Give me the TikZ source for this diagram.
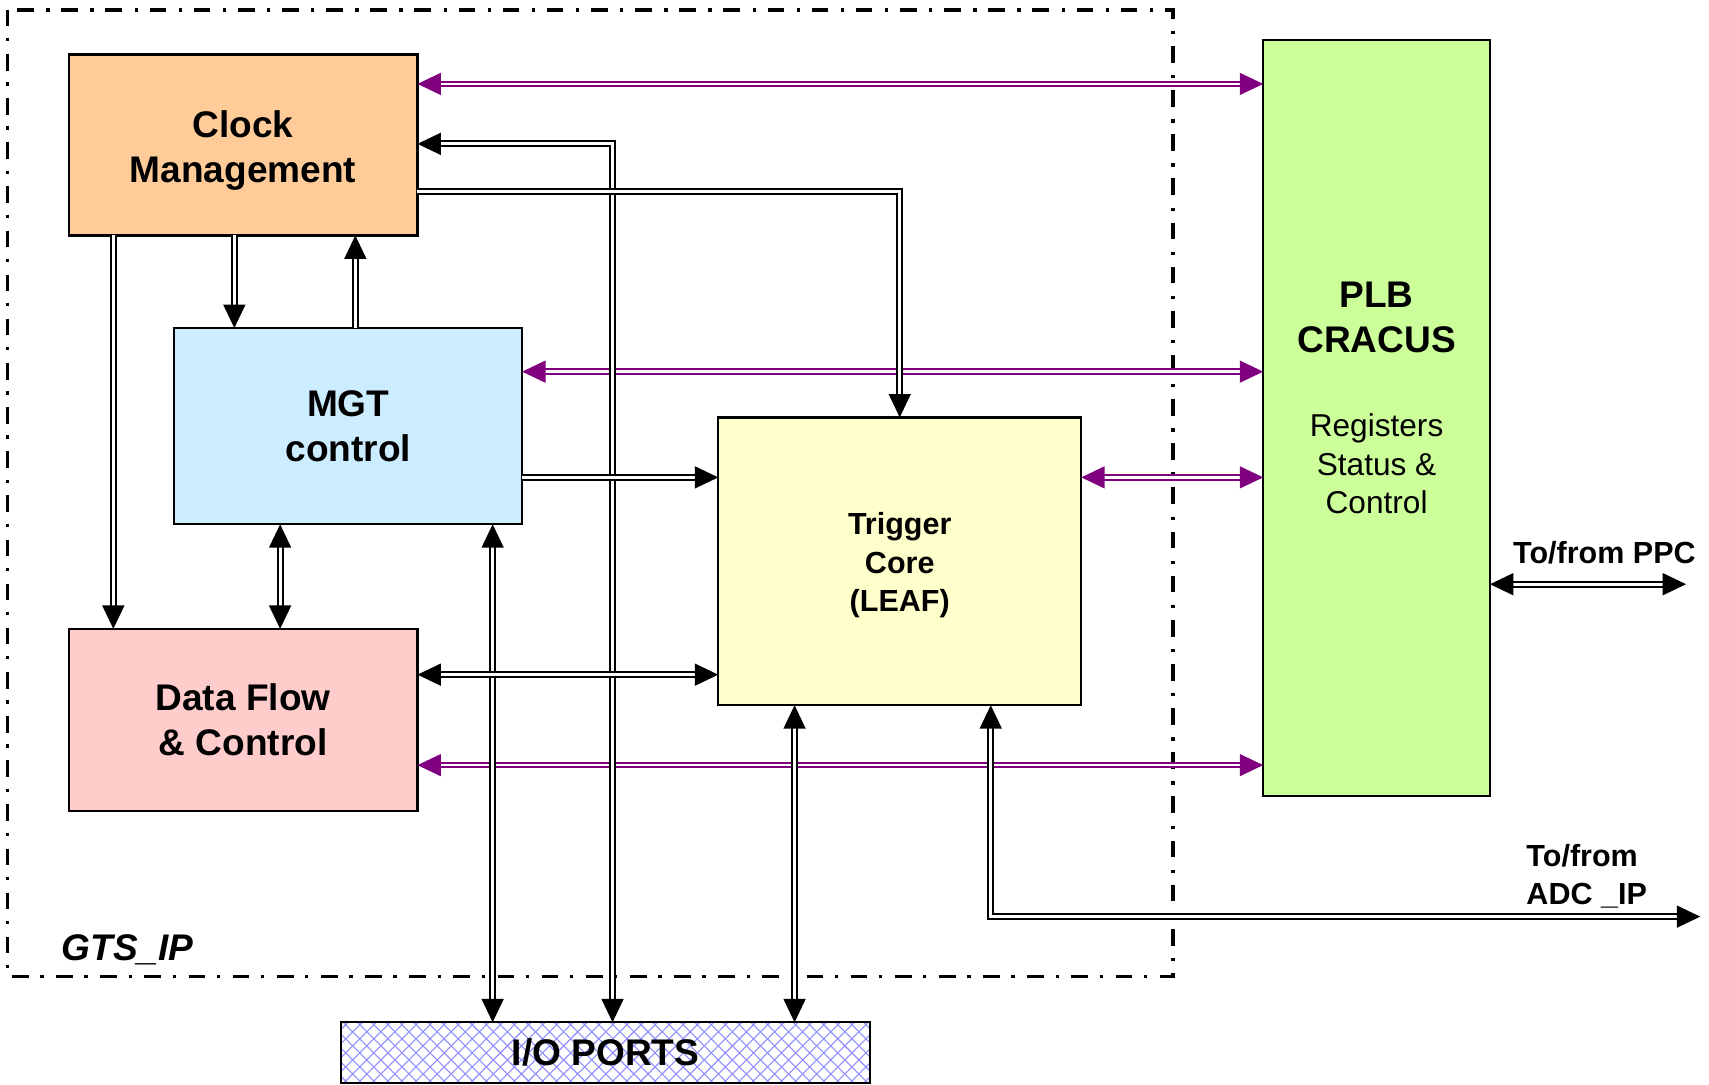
\documentclass[tikz,border=0pt]{standalone}
\usepackage{fontspec}
\setmainfont{Liberation Sans}
\usetikzlibrary{arrows.meta}

\definecolor{clkfill}{HTML}{FFCC99}
\definecolor{mgtfill}{HTML}{CCECFF}
\definecolor{dfcfill}{HTML}{FFCCCC}
\definecolor{trgfill}{HTML}{FFFFCC}
\definecolor{plbfill}{HTML}{CCFF99}
\definecolor{busviolet}{HTML}{800080}
\definecolor{hatchblue}{HTML}{8F8FFF}

\begin{document}
\begin{tikzpicture}[x=1pt,y=-1pt,
  >={Triangle[length=21.5pt,width=20pt]},
  block/.style={draw=black, line width=2pt, inner sep=0pt, outer sep=0pt, align=center},
  titlefont/.style={font=\fontsize{34pt}{41pt}\selectfont\bfseries},
  smallbold/.style={font=\fontsize{28pt}{35.5pt}\selectfont\bfseries},
  plainfont/.style={font=\fontsize{29pt}{35.5pt}\selectfont},
  link/.style={draw=black, double=white, line width=2pt, double distance=2.6pt},
  bus/.style={draw=busviolet, double=white, line width=1.8pt, double distance=2.3pt},
  hatchline/.style={draw=hatchblue, line width=1pt}
]
\useasboundingbox (0,0) rectangle (1568,995);

% dash-dotted outline of the GTS_IP core
\draw[line width=3.2pt, dash pattern=on 15.3pt off 10.7pt on 3pt off 11.5pt] (7,9) rectangle (1076,896);
\node[font=\fontsize{34pt}{41pt}\selectfont\bfseries\itshape] (gts) at (117,871) {GTS\_IP};

% functional blocks
\node[block, fill=clkfill, minimum width=320pt, minimum height=166pt,
      label={[titlefont, align=center, yshift=-5pt]center:Clock\\Management}] (clk) at (223,133) {};
\node[block, titlefont, fill=mgtfill, minimum width=319pt, minimum height=180pt] (mgt) at (319.5,391) {MGT\\control};
\node[block, titlefont, fill=dfcfill, minimum width=320pt, minimum height=167pt] (dfc) at (223,660.5) {Data Flow\\\& Control};
\node[block, fill=trgfill, minimum width=333pt, minimum height=264pt,
      label={[smallbold, align=center, yshift=-3.5pt]center:Trigger\\Core\\(LEAF)}] (trg) at (825.5,515) {};
\node[block, line width=1.6pt, fill=plbfill, minimum width=208pt, minimum height=693pt] (plb) at (1263,383.5) {};
\node[titlefont, align=center] (plbtitle) at (1263,291) {PLB\\CRACUS};
\node[plainfont, align=center] (plbregs) at (1263,425.5) {Registers\\Status \&\\Control};
% I/O ports block with a diagonal cross-hatch
\node[block, titlefont, fill=white, minimum width=485pt, minimum height=56pt,
      path picture={
        \foreach \k in {-6,...,39} {
          \draw[hatchline] ([xshift=\k*12.9pt, yshift=2pt]path picture bounding box.north west) -- ++(70,70);
          \draw[hatchline] ([xshift=\k*12.9pt, yshift=-2pt]path picture bounding box.south west) -- ++(70,-70);
        }
      }] (io) at (555.5,966) {I/O PORTS};

% external interface labels
\node[smallbold] (ppclbl) at (1472,507.5) {To/from PPC};
\node[smallbold, align=left, anchor=west] (adclbl) at (1397,804) {To/from\\ADC \_IP};

% routing levels
\coordinate (hA) at (0,77);
\coordinate (hB) at (0,132);
\coordinate (hC) at (0,176);
\coordinate (hD) at (0,341);
\coordinate (hE) at (0,438);
\coordinate (hF) at (0,536);
\coordinate (hG) at (0,619);
\coordinate (hH) at (0,702);
\coordinate (hI) at (0,841);
\coordinate (va) at (104,0);
\coordinate (vb) at (215,0);
\coordinate (vc) at (326,0);
\coordinate (vd) at (257,0);
\coordinate (ve) at (452,0);
\coordinate (vf) at (562,0);
\coordinate (vg) at (729,0);
\coordinate (vh) at (825.5,0);
\coordinate (vi) at (909,0);
\coordinate (ppcend) at (1547,536);
\coordinate (adcend) at (1560,841);

% register buses to the PLB interface
\draw[bus,<->] (clk.east |- hA) -- (plb.west |- hA);
\draw[bus,<->] (mgt.east |- hD) -- (plb.west |- hD);
\draw[bus,<->] (trg.east |- hE) -- (plb.west |- hE);
\draw[bus,<->] (dfc.east |- hH) -- (plb.west |- hH);

% internal signal paths
\draw[link,<->] (clk.east |- hB) -- (vf |- hB) -- (vf |- io.north);
\draw[link,->] (clk.east |- hC) -- (vh |- hC) -- (vh |- trg.north);
\draw[link,->] (va |- clk.south) -- (va |- dfc.north);
\draw[link,->] (vb |- clk.south) -- (vb |- mgt.north);
\draw[link,->] (vc |- mgt.north) -- (vc |- clk.south);
\draw[link,->] (mgt.east |- hE) -- (trg.west |- hE);
\draw[link,<->] (vd |- mgt.south) -- (vd |- dfc.north);
\draw[link,<->] (ve |- mgt.south) -- (ve |- io.north);
\draw[link,<->] (dfc.east |- hG) -- (trg.west |- hG);
\draw[link,<->] (vg |- trg.south) -- (vg |- io.north);
\draw[link,<->] (vi |- trg.south) -- (vi |- hI) -- (adcend);
\draw[link,<->] (plb.east |- hF) -- (ppcend);
\end{tikzpicture}
\end{document}
